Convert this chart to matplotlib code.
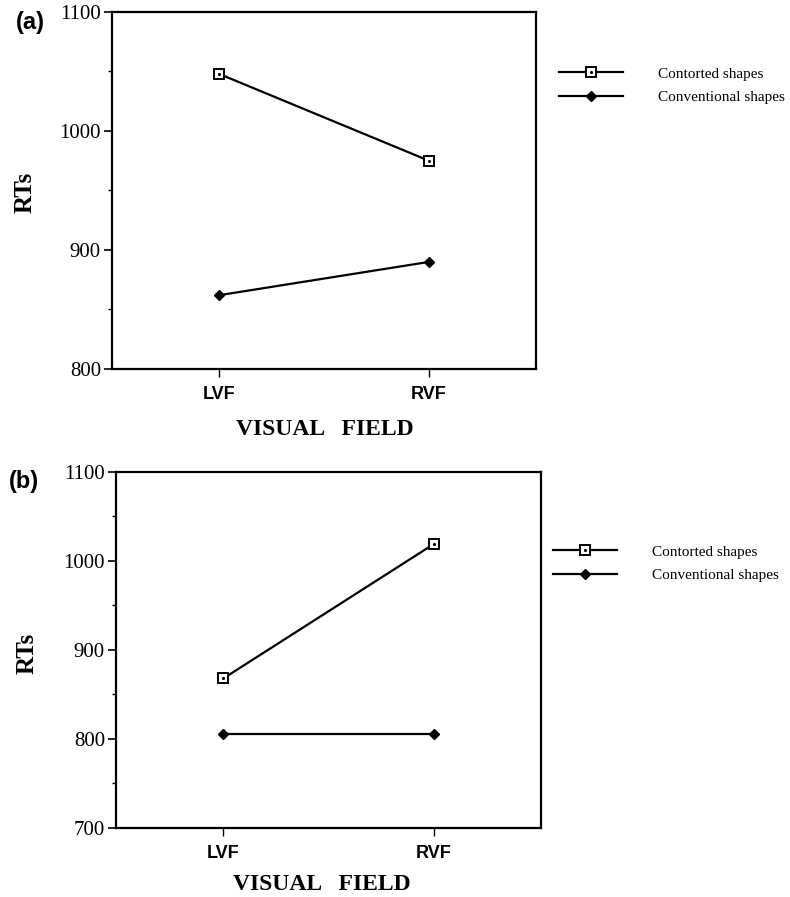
import matplotlib
matplotlib.use('Agg')
import matplotlib.pyplot as plt
from matplotlib.ticker import MultipleLocator

# data
fields = ['LVF', 'RVF']
contorted_a = [1048, 975]
conventional_a = [862, 890]
contorted_b = [868, 1019]
conventional_b = [806, 806]

W, H = 790, 897
SERIF = 'Liberation Serif'
SANS = 'Liberation Sans'


def px_axes(fig, left, top, right, bottom):
    return fig.add_axes([left / W, 1 - bottom / H, (right - left) / W, (bottom - top) / H])


def draw_panel(fig, box, contorted, conventional, ylim, label, label_xy,
               rts_xy, vf_xy, leg_xy):
    ax = px_axes(fig, *box)
    x = range(len(fields))
    l1, = ax.plot(x, contorted, color='black', lw=1.6, marker='s', ms=6.5,
                  mfc='white', mec='black', mew=1.4)
    d1, = ax.plot(x, contorted, ls='none', marker='.', ms=2.5, color='black')
    l2, = ax.plot(x, conventional, color='black', lw=1.6, marker='D', ms=5.5,
                  mfc='black', mec='black')
    ax.set_xlim(-0.51, 1.51)
    ax.set_ylim(*ylim)
    ax.set_xticks(list(x))
    ax.set_xticklabels(fields, fontfamily=SANS, fontweight='bold', fontsize=13)
    ax.yaxis.set_major_locator(MultipleLocator(100))
    ax.yaxis.set_minor_locator(MultipleLocator(50))
    for lab in ax.get_yticklabels():
        lab.set_fontfamily(SERIF)
        lab.set_fontsize(15)
    ax.tick_params(axis='y', which='major', direction='out', length=6, width=1.2, pad=2)
    ax.tick_params(axis='y', which='minor', direction='out', length=3, width=1.0)
    ax.tick_params(axis='x', direction='out', length=6, width=1.0, pad=6)
    for sp in ax.spines.values():
        sp.set_linewidth(1.6)

    fig.text(label_xy[0] / W, 1 - label_xy[1] / H, label, fontfamily=SANS,
             fontweight='bold', fontsize=17, ha='left', va='center')
    fig.text(rts_xy[0] / W, 1 - rts_xy[1] / H, 'RTs', fontfamily=SERIF,
             fontweight='bold', fontsize=18, rotation=90, ha='center', va='center')
    fig.text(vf_xy[0] / W, 1 - vf_xy[1] / H, 'VISUAL   FIELD', fontfamily=SERIF,
             fontweight='bold', fontsize=17, ha='center', va='center')

    ax.legend([(l1, d1), l2], ['Contorted shapes', 'Conventional shapes'],
              loc='upper left', bbox_to_anchor=(leg_xy[0] / W, 1 - leg_xy[1] / H),
              bbox_transform=fig.transFigure, frameon=False,
              prop={'family': SERIF, 'size': 11}, handlelength=4.2,
              handletextpad=2.3, labelspacing=0.65, borderpad=0, borderaxespad=0)
    return ax


fig = plt.figure(figsize=(W / 100, H / 100), dpi=100)

draw_panel(fig, (112, 12, 536, 369), contorted_a, conventional_a, (800, 1100),
           '(a)', (16, 23), (25, 192), (325, 429), (559, 67))
draw_panel(fig, (116, 472, 541, 828), contorted_b, conventional_b, (700, 1100),
           '(b)', (9, 481), (27, 653), (322, 884), (553, 545))

fig.savefig('out.png', dpi=100)
